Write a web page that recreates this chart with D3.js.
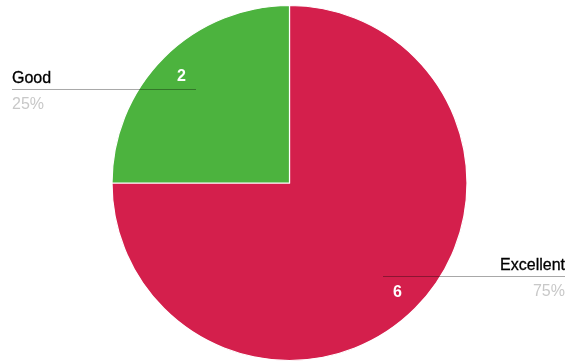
<!DOCTYPE html>
<html><head><meta charset="utf-8">
<script src="https://cdn.jsdelivr.net/npm/d3@7"></script>
<style>
html,body{margin:0;padding:0;background:#fff;}
svg{display:block;font-family:"Liberation Sans",Arial,sans-serif;}
</style></head>
<body>
<svg id="c" width="569" height="362"></svg>
<script>
const categories = ["Excellent", "Good"];
const values = [6, 2];
const colors = ["#d41f4c", "#4cb33e"];

const W = 569, H = 362;
const cx = 289.5, cy = 183, R = 177.5;
const svg = d3.select("#c");
const g = svg.append("g").attr("transform", `translate(${cx},${cy})`);

const data = categories.map((c, i) => ({cat: c, val: values[i], color: colors[i]}));
const total = d3.sum(values);
const pie = d3.pie().value(d => d.val).sort(null);
const arcs = pie(data);
const arc = d3.arc().innerRadius(0).outerRadius(R);
const lineArc = d3.arc().innerRadius(R * 0.745).outerRadius(R * 0.745);
const valArc = d3.arc().innerRadius(R * 0.86).outerRadius(R * 0.86);

g.selectAll("path.slice").data(arcs).enter().append("path")
  .attr("d", arc).attr("fill", d => d.data.color)
  .attr("stroke", "#fff").attr("stroke-width", 1.2);

arcs.forEach(a => {
  const [lx, ly] = lineArc.centroid(a);
  const mid = (a.startAngle + a.endAngle) / 2;
  const right = Math.sin(mid) > 0;
  const ex = right ? (565 - cx) : (12 - cx);
  g.append("line")
    .attr("x1", lx).attr("y1", ly).attr("x2", ex).attr("y2", ly)
    .attr("stroke", "#a8a8a8").attr("stroke-width", 1)
    .style("mix-blend-mode", "multiply");
  const anchor = right ? "end" : "start";
  g.append("text").attr("x", ex).attr("y", ly - 7)
    .attr("text-anchor", anchor).attr("font-size", 16)
    .attr("fill", "#000").attr("stroke", "#000").attr("stroke-width", 0.3)
    .text(a.data.cat);
  g.append("text").attr("x", ex).attr("y", ly + 19)
    .attr("text-anchor", anchor).attr("font-size", 16)
    .attr("fill", "#c8c8c8").text(Math.round(a.data.val / total * 100) + "%");
  const [vx, vy] = valArc.centroid(a);
  g.append("text").attr("x", vx).attr("y", vy + 6)
    .attr("text-anchor", "middle").attr("font-size", 16).attr("font-weight", "bold")
    .attr("fill", "#fff").text(a.data.val);
});
</script>
</body></html>
